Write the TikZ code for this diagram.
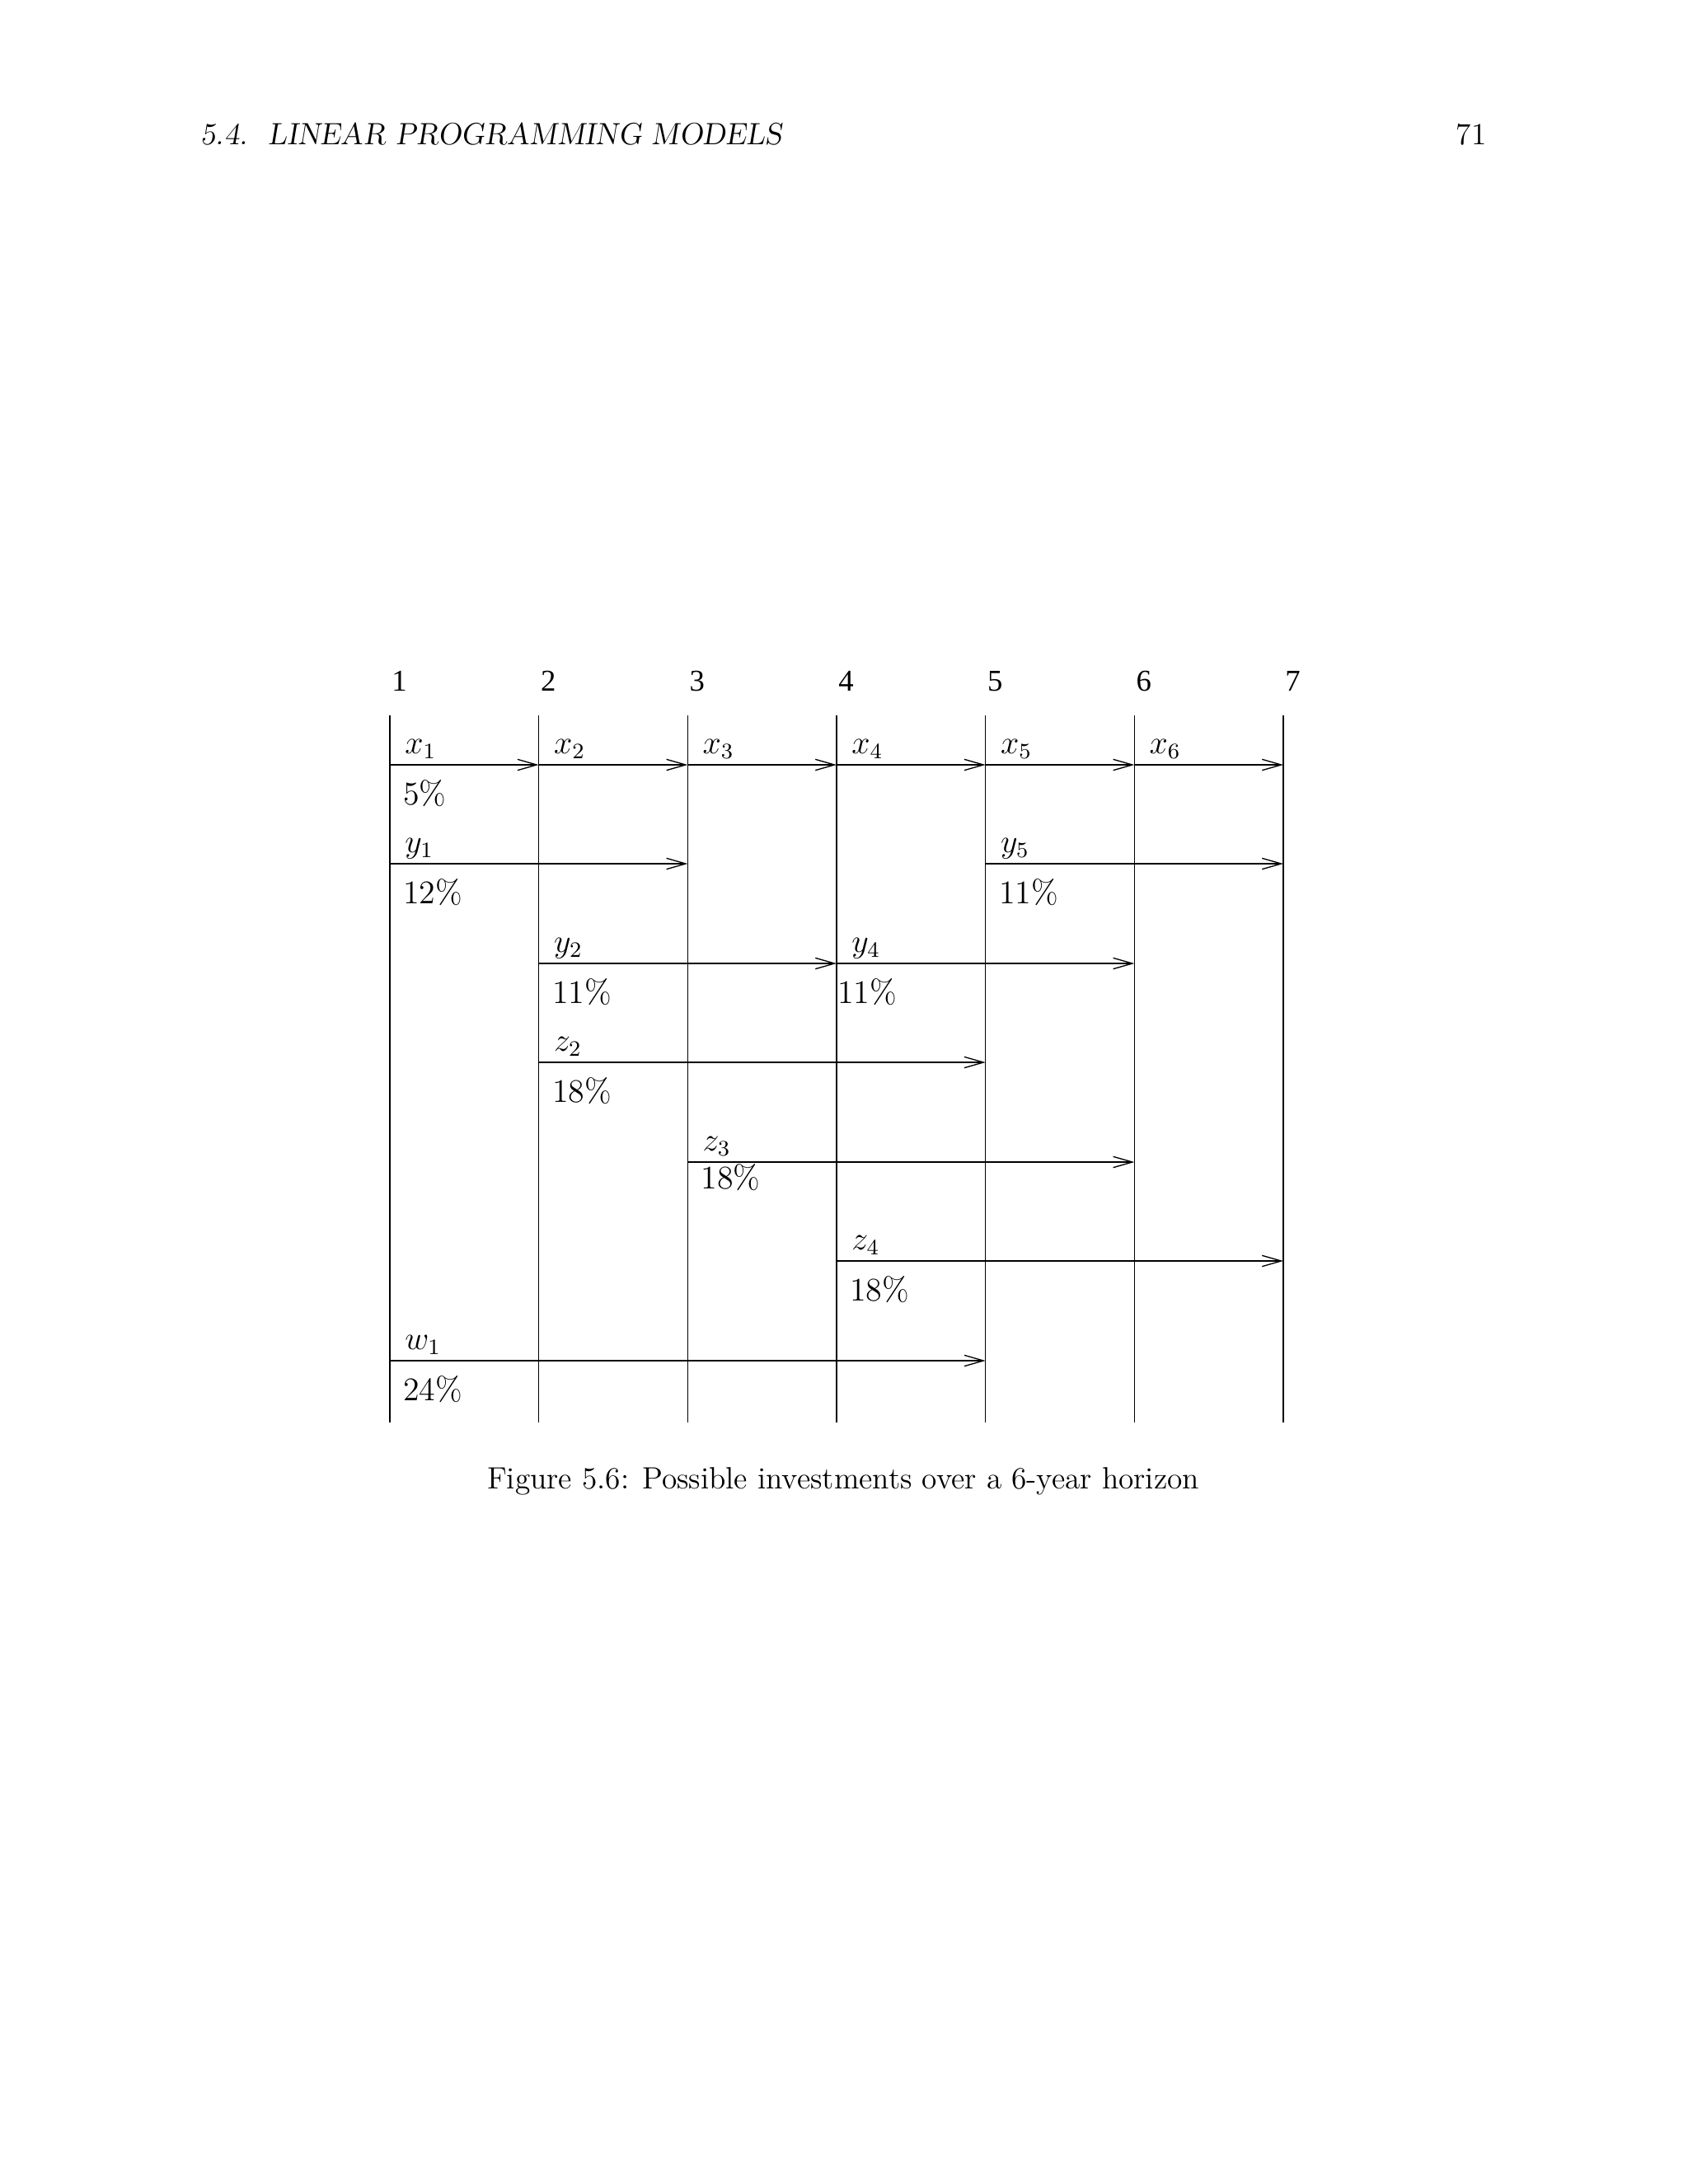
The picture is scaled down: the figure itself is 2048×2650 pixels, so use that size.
\documentclass[tikz,border=0pt]{standalone}
\usepackage{fontspec}
\newfontfamily\numfont{Liberation Serif}
\usetikzlibrary{arrows.meta}
\tikzset{
  lab/.style={anchor=base west, inner sep=0pt, xshift=5.3pt, yshift=4.2pt, font=\fontsize{12}{14}\selectfont},
  pct/.style={anchor=base west, inner sep=0pt, xshift=4.7pt, yshift=-14.4pt, font=\fontsize{12}{14}\selectfont},
  year/.style={anchor=base west, inner sep=0pt, xshift=0.5pt, font=\numfont\fontsize{11}{13}\selectfont}
}
\begin{document}
\begin{tikzpicture}[x=0.3pt, y=-0.3pt, line width=0.4pt, >={Straight Barb[length=7pt,width=4pt]}]
\useasboundingbox (0,0) rectangle (2048,2650);
% running head
\node[anchor=base west, inner sep=0pt, font=\fontsize{11.2}{13}\selectfont\slshape] (head) at (243,175) {5.4.\hspace{7.5pt}LINEAR PROGRAMMING MODELS};
\node[anchor=base east, inner sep=0pt, font=\fontsize{11.2}{13}\selectfont] (pageno) at (1804,175) {71};
% years and time lines
\foreach \i [evaluate=\i as \x using {473+180.67*(\i-1)}] in {1,...,7} {
  \path (\x,868) coordinate (c\i) ++(0,858) coordinate (d\i);
  \node[year] (n\i) at (\x,838) {\i};
  \draw (c\i) -- (d\i);
}
\foreach \j/\y in {1/928, 2/1048, 3/1169, 4/1289, 5/1410, 6/1530, 7/1651}
  \coordinate (r\j) at (0,\y);
% investments
\foreach \a/\b/\j in {1/2/1, 2/3/1, 3/4/1, 4/5/1, 5/6/1, 6/7/1, 1/3/2, 5/7/2,
                      2/4/3, 4/6/3, 2/5/4, 3/6/5, 4/7/6, 1/5/7}
  \draw[->] (c\a |- r\j) -- (c\b |- r\j);
\foreach \i in {1,...,6}
  \node[lab] (lx\i) at (c\i |- r1) {$x_\i$};
\node[pct] (px1) at (c1 |- r1) {5\%};
\node[lab] (ly1) at (c1 |- r2) {$y_1$};
\node[pct] (py1) at (c1 |- r2) {12\%};
\node[lab] (ly5) at (c5 |- r2) {$y_5$};
\node[pct] (py5) at (c5 |- r2) {11\%};
\node[lab] (ly2) at (c2 |- r3) {$y_2$};
\node[pct] (py2) at (c2 |- r3) {11\%};
\node[lab] (ly4) at (c4 |- r3) {$y_4$};
\node[pct, xshift=-4.6pt] (py4) at (c4 |- r3) {11\%};
\node[lab] (lz2) at (c2 |- r4) {$z_2$};
\node[pct] (pz2) at (c2 |- r4) {18\%};
\node[lab] (lz3) at (c3 |- r5) {$z_3$};
\node[pct, yshift=4.8pt] (pz3) at (c3 |- r5) {18\%};
\node[lab] (lz4) at (c4 |- r6) {$z_4$};
\node[pct] (pz4) at (c4 |- r6) {18\%};
\node[lab] (lw1) at (c1 |- r7) {$w_1$};
\node[pct] (pw1) at (c1 |- r7) {24\%};
% caption
\node[anchor=base, inner sep=0pt, font=\fontsize{11.2}{13}\selectfont] (cap) at (1023,1806) {Figure 5.6: Possible investments over a 6-year horizon};
\end{tikzpicture}
\end{document}
